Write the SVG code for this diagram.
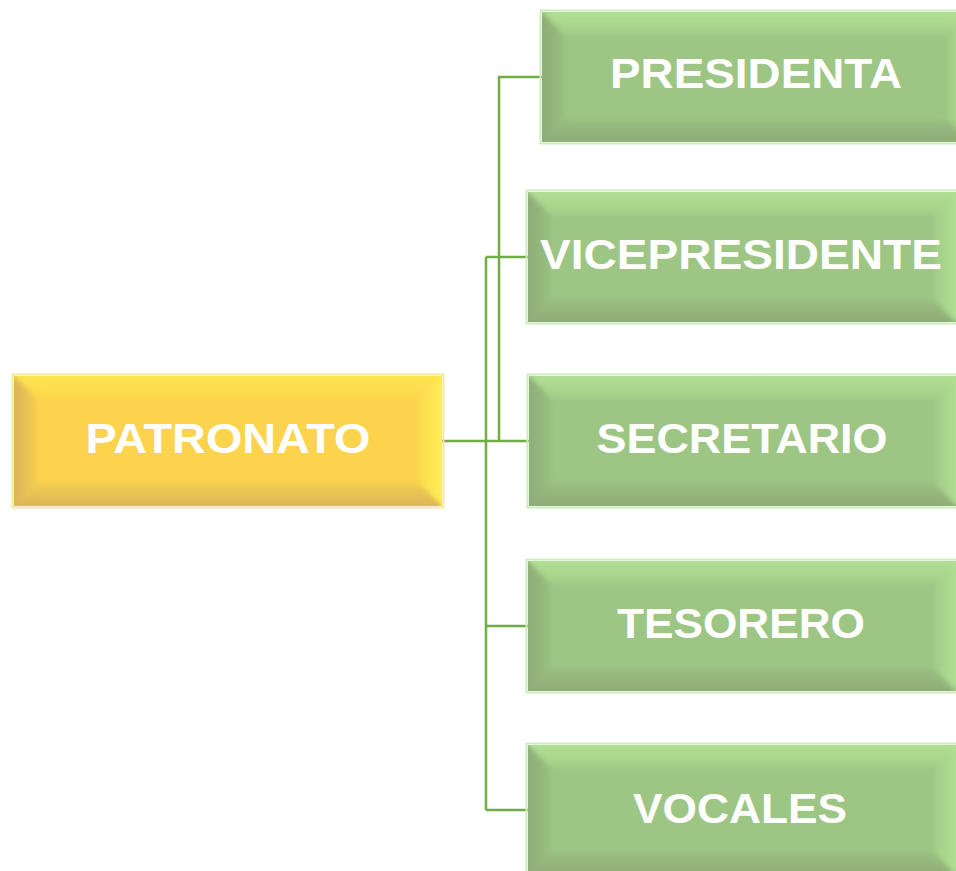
<svg xmlns="http://www.w3.org/2000/svg" xmlns:xlink="http://www.w3.org/1999/xlink" width="956" height="871" viewBox="0 0 956 871">
<style>
.lbl{font-family:"Liberation Sans","Open Sans",Arial,sans-serif;font-weight:700;font-size:42px;fill:#ffffff;text-anchor:middle}
.conn{stroke:#70AD47;stroke-width:2.5;fill:none}
</style>
<defs>
<filter id="soft" x="-5%" y="-20%" width="110%" height="140%"><feGaussianBlur stdDeviation="2.5"/></filter>
<clipPath id="boxClip"><rect x="0" y="0" width="428" height="130"/></clipPath>
<linearGradient id="gTop" x1="0" y1="0" x2="0" y2="1"><stop offset="0" stop-color="#B4E296"/><stop offset="1" stop-color="#A4CF89"/></linearGradient>
<linearGradient id="gLeft" x1="0" y1="0" x2="1" y2="0"><stop offset="0" stop-color="#8CA976"/><stop offset="1" stop-color="#98BF80"/></linearGradient>
<linearGradient id="gRight" x1="1" y1="0" x2="0" y2="0"><stop offset="0" stop-color="#B2E394"/><stop offset="1" stop-color="#A2CC88"/></linearGradient>
<linearGradient id="gBot" x1="0" y1="1" x2="0" y2="0"><stop offset="0" stop-color="#8DA976"/><stop offset="1" stop-color="#98BE80"/></linearGradient>
<linearGradient id="yTop" x1="0" y1="0" x2="0" y2="1"><stop offset="0" stop-color="#FFE553"/><stop offset="1" stop-color="#FDD84C"/></linearGradient>
<linearGradient id="yLeft" x1="0" y1="0" x2="1" y2="0"><stop offset="0" stop-color="#D6B05C"/><stop offset="1" stop-color="#F3CC50"/></linearGradient>
<linearGradient id="yRight" x1="1" y1="0" x2="0" y2="0"><stop offset="0" stop-color="#FFF25A"/><stop offset="1" stop-color="#FDDC4E"/></linearGradient>
<linearGradient id="yBot" x1="0" y1="1" x2="0" y2="0"><stop offset="0" stop-color="#D6B25A"/><stop offset="1" stop-color="#F2CC50"/></linearGradient>
<g id="greenBox">
<rect x="-1.5" y="-1.5" width="431" height="133" fill="none" stroke="#CDEBBB" stroke-width="2"/>
<rect x="0" y="0" width="428" height="130" fill="#9DC584"/>
<g clip-path="url(#boxClip)"><g filter="url(#soft)">
<polygon points="-4,-4 432,-4 406,22 22,22" fill="url(#gTop)"/>
<polygon points="-4,-4 22,22 22,108 -4,134" fill="url(#gLeft)"/>
<polygon points="432,-4 432,134 406,108 406,22" fill="url(#gRight)"/>
<polygon points="-4,134 22,108 406,108 432,134" fill="url(#gBot)"/>
</g></g>
</g>
<g id="yellowBox">
<rect x="-1.5" y="-1.5" width="431" height="133" fill="none" stroke="#F6E89A" stroke-width="2"/>
<rect x="0" y="0" width="428" height="130" fill="#FCD34D"/>
<g clip-path="url(#boxClip)"><g filter="url(#soft)">
<polygon points="-4,-4 432,-4 406,22 22,22" fill="url(#yTop)"/>
<polygon points="-4,-4 22,22 22,108 -4,134" fill="url(#yLeft)"/>
<polygon points="432,-4 432,134 406,108 406,22" fill="url(#yRight)"/>
<polygon points="-4,134 22,108 406,108 432,134" fill="url(#yBot)"/>
</g></g>
</g>
</defs>
<rect width="956" height="871" fill="#ffffff"/>
<g id="connectors">
<line class="conn" x1="442" y1="441" x2="529" y2="441"/>
<polyline class="conn" points="499,441 499,77 542,77"/>
<line class="conn" x1="486" y1="257" x2="486" y2="810"/>
<line class="conn" x1="486" y1="257" x2="528" y2="257"/>
<line class="conn" x1="486" y1="626" x2="528" y2="626"/>
<line class="conn" x1="486" y1="810" x2="528" y2="810"/>
</g>
<g id="patronato">
<use xlink:href="#yellowBox" x="14" y="376"/>
<text class="lbl" x="228" y="453" textLength="285" lengthAdjust="spacingAndGlyphs">PATRONATO</text>
</g>
<g id="presidenta">
<use xlink:href="#greenBox" x="542" y="12"/>
<text class="lbl" x="756" y="88" textLength="292" lengthAdjust="spacingAndGlyphs">PRESIDENTA</text>
</g>
<g id="vicepresidente">
<use xlink:href="#greenBox" x="528" y="192"/>
<text class="lbl" x="741" y="269" textLength="402" lengthAdjust="spacingAndGlyphs">VICEPRESIDENTE</text>
</g>
<g id="secretario">
<use xlink:href="#greenBox" x="529" y="376"/>
<text class="lbl" x="742" y="453" textLength="291" lengthAdjust="spacingAndGlyphs">SECRETARIO</text>
</g>
<g id="tesorero">
<use xlink:href="#greenBox" x="528" y="561"/>
<text class="lbl" x="741" y="638" textLength="248" lengthAdjust="spacingAndGlyphs">TESORERO</text>
</g>
<g id="vocales">
<use xlink:href="#greenBox" x="528" y="745"/>
<text class="lbl" x="740" y="823" textLength="214" lengthAdjust="spacingAndGlyphs">VOCALES</text>
</g>
</svg>
